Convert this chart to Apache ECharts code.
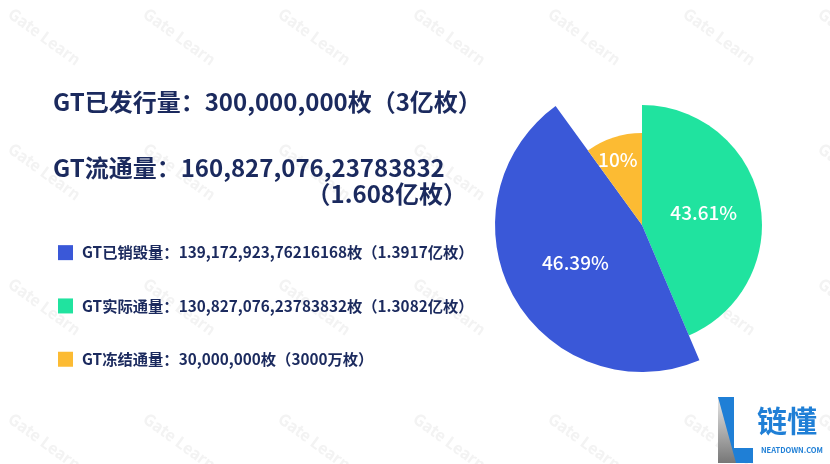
<!DOCTYPE html>
<html>
<head>
<meta charset="utf-8">
<script src="https://cdn.jsdelivr.net/npm/echarts@6/dist/echarts.min.js"></script>
<style>
  html, body { margin: 0; padding: 0; background: #fff; }
  #chart { width: 830px; height: 464px; }
</style>
</head>
<body>
<div id="chart"></div>
<script>
// 切片（顺时针，从12点开始）
var names = ['GT实际通量', 'GT已销毁量', 'GT冻结通量'];
var values = [43.61, 46.39, 10];
var colors = ['#20e39f', '#3a58d8', '#fcbb33'];
var radii = [120, 147, 92];
// 图例顺序和文字
var legendNames = ['GT已销毁量', 'GT实际通量', 'GT冻结通量'];
var legendTexts = {
  'GT已销毁量': 'GT已销毁量：139,172,923,76216168枚（1.3917亿枚）',
  'GT实际通量': 'GT实际通量：130,827,076,23783832枚（1.3082亿枚）',
  'GT冻结通量': 'GT冻结通量：30,000,000枚（3000万枚）'
};
var headLines = ['GT已发行量：300,000,000枚（3亿枚）', 'GT流通量：160,827,076,23783832', '（1.608亿枚）'];

var font = '"Noto Sans CJK SC", "Noto Sans", sans-serif';
var navy = '#1b2a5e';

// 每个切片一个 pie 系列，其余切片透明，这样半径可以不同
var series = names.map(function (nm, i) {
  return {
    type: 'pie',
    center: [642, 225],
    radius: [0, radii[i]],
    startAngle: 90,
    silent: true,
    animation: false,
    labelLine: { show: false },
    data: values.map(function (v, j) {
      if (j === i) {
        return {
          name: nm, value: v,
          itemStyle: { color: colors[j] },
          label: {
            show: true, position: 'inner', formatter: '{c}%',
            color: '#fff', fontSize: 19, fontWeight: 500, fontFamily: font,
            offset: j === 2 ? [-9, -19] : [0, 0]
          }
        };
      }
      return { name: '_' + j, value: v, itemStyle: { color: 'transparent' }, label: { show: false } };
    })
  };
});

// 水印
var marks = [];
for (var r = 0; r < 4; r++) {
  for (var c = 0; c < 7; c++) {
    marks.push({
      type: 'text', x: 15 + c * 135, y: 5 + r * 135, rotation: -Math.PI / 5, silent: true,
      style: { text: 'Gate Learn', fill: '#f3f3f3', font: 'bold 16px ' + font }
    });
  }
}

var chart = echarts.init(document.getElementById('chart'));
chart.setOption({
  backgroundColor: '#fff',
  legend: {
    data: legendNames,
    orient: 'vertical',
    left: 53, top: 240,
    itemWidth: 15, itemHeight: 15, itemGap: 38,
    icon: 'rect',
    selectedMode: false,
    formatter: function (n) { return legendTexts[n]; },
    textStyle: { color: navy, fontSize: 15.3, fontWeight: 'bold', fontFamily: font, padding: [0, 0, 0, 4] }
  },
  graphic: marks.concat([
    { type: 'text', left: 53, top: 90, style: { text: headLines[0], fill: navy, font: 'bold 24px ' + font } },
    { type: 'text', left: 53, top: 156, style: { text: headLines[1], fill: navy, font: 'bold 24px ' + font, letterSpacing: 0.5 } },
    { type: 'text', right: 363, top: 182, style: { text: headLines[2], fill: navy, font: 'bold 24px ' + font } },
    // 链懂 logo
    { type: 'polygon', shape: { points: [[718, 397], [734, 397], [734, 448], [753, 448], [753, 463], [718, 463]] }, style: { fill: '#1f7fd6' } },
    { type: 'polygon', shape: { points: [[718, 397], [736, 463], [718, 463]] },
      style: { fill: new echarts.graphic.LinearGradient(0, 0, 0, 1, [{ offset: 0, color: '#e8e8e8' }, { offset: 1, color: '#777' }]) } },
    { type: 'text', x: 757, y: 406, style: { text: '链懂', fill: '#1f7fd6', font: 'bold 30px ' + font } },
    { type: 'text', x: 761, y: 446, style: { text: 'NEATDOWN.COM', fill: '#1f7fd6', font: 'bold 7.5px ' + font } }
  ]),
  series: series
});
</script>
</body>
</html>
